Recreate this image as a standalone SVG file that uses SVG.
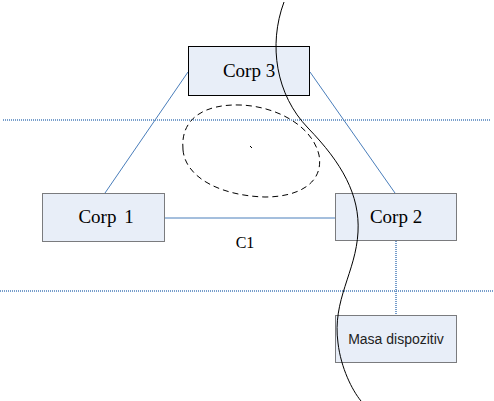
<svg xmlns="http://www.w3.org/2000/svg" width="494" height="401" viewBox="0 0 494 401">
<style>
.box{fill:#E8EEF8;stroke:#000;stroke-width:1;stroke-dasharray:1,1}
.solid{stroke-dasharray:none}
.lbl{font-family:"Liberation Serif",serif;font-size:19px;fill:#000;text-anchor:middle}
.sans{font-family:"Liberation Sans",sans-serif;font-size:14px;fill:#222;text-anchor:middle}
.con{stroke:#4A7EBB;stroke-width:1;fill:none}
.dot{stroke:#4A7EBB;stroke-width:1.5;stroke-dasharray:1,1;fill:none}
</style>
<rect width="494" height="401" fill="#fff"/>
<g id="connectors">
<line class="dot" x1="3" y1="120" x2="491" y2="120"/>
<line class="dot" x1="0" y1="291" x2="494" y2="291"/>
<line class="con" x1="188" y1="72" x2="105" y2="193"/>
<line class="con" x1="310" y1="72" x2="395" y2="193"/>
<line class="con" x1="165" y1="218" x2="335" y2="218"/>
<line class="dot" x1="396" y1="241" x2="396" y2="315"/>
</g>
<g id="corp3"><rect class="box solid" x="188.5" y="46.5" width="121" height="49"/><text class="lbl" x="249" y="77">Corp 3</text></g>
<g id="corp1"><rect class="box" x="42.5" y="193.5" width="122" height="48"/><text class="lbl" x="106" y="223" style="word-spacing:3px">Corp 1</text></g>
<g id="corp2"><rect class="box" x="335.5" y="193.5" width="121" height="47"/><text class="lbl" x="396" y="223">Corp 2</text></g>
<g id="masa"><rect class="box" x="335.5" y="315.5" width="121" height="47"/><text class="sans" x="396" y="344">Masa dispozitiv</text></g>
<g id="c1"><text class="lbl" x="245" y="248" style="font-size:16px">C1</text></g>
<g id="shapes" fill="none" stroke="#000" stroke-width="1">
<path d="M183,150 C180,118 205,104 240,105 C275,106 312,125 319,155 C324,182 300,197 265,197 C225,196 186,180 183,150 Z" stroke-dasharray="6,4"/>
<path d="M284,2 C268,45 276,95 308,128 C342,163 360,195 358,232 C356,272 332,300 338,343 C341,368 352,390 361,401"/>
<line x1="250" y1="146" x2="252" y2="148"/>
</g>
</svg>
